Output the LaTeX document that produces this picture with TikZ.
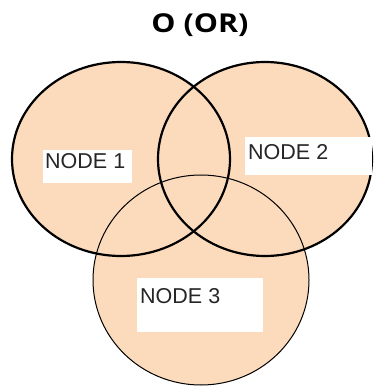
\documentclass[tikz,border=0pt]{standalone}
\usepackage{fontspec}
\setmainfont{Liberation Sans}
\newfontfamily\titlefont{Open Sans}
\definecolor{peach}{HTML}{FCDBBD}
\begin{document}
\begin{tikzpicture}[x=1pt,y=-1pt,
  setfill/.style={fill=peach},
  thickline/.style={draw=black,line width=2.2pt},
  thinline/.style={draw=black,line width=1.0pt},
  whitebox/.style={fill=white,draw=none,inner sep=0pt,anchor=north west},
  nodelabel/.style={font=\fontsize{21.5}{24}\selectfont,text=black!85,inner sep=0pt,anchor=base west}]
\useasboundingbox (0,0) rectangle (373,387);
% filled regions
\fill[setfill] (121,159) ellipse [x radius=109, y radius=97];
\fill[setfill] (265,159) ellipse [x radius=107, y radius=97];
\fill[setfill] (201,280) ellipse [x radius=108, y radius=105];
% outlines
\draw[thinline] (201,280) ellipse [x radius=108, y radius=105];
\draw[thickline] (121,159) ellipse [x radius=109, y radius=97];
\draw[thickline] (265,159) ellipse [x radius=107, y radius=97];
% label boxes
\node[whitebox,minimum width=89pt,minimum height=33pt] (b1) at (43,150) {};
\node[whitebox,minimum width=127pt,minimum height=38pt] (b2) at (245,137) {};
\node[whitebox,minimum width=126pt,minimum height=54pt] (b3) at (137,278) {};
\node[nodelabel] (n1) at (45,168) {NODE 1};
\node[nodelabel] (n2) at (248,160) {NODE 2};
\node[nodelabel] (n3) at (140,303) {NODE 3};
% title
\node[font=\titlefont\bfseries\fontsize{26}{30}\selectfont,inner sep=0pt,anchor=base,xscale=1.17] (title) at (200,33) {O (OR)};
\end{tikzpicture}
\end{document}
